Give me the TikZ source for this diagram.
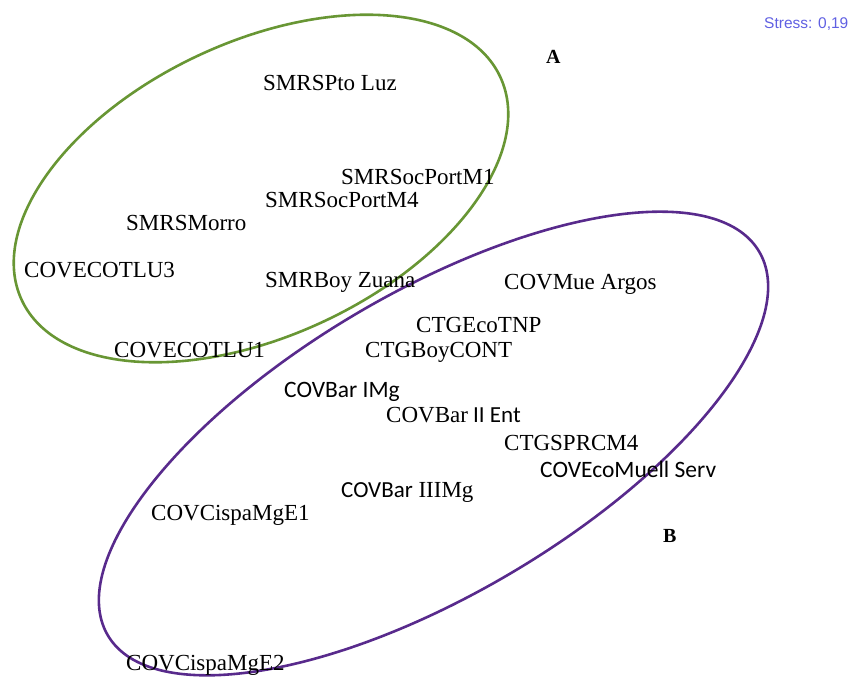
\documentclass[tikz,border=0pt]{standalone}
\usepackage{fontspec}
\setmainfont{Liberation Serif}
\newfontfamily\calfont{Carlito}
\newfontfamily\arialfont{Liberation Sans}
\usepackage{xcolor}
\usepackage{tikz}
\definecolor{grpA}{RGB}{104,150,52}
\definecolor{grpB}{RGB}{88,42,140}
\definecolor{stressblue}{RGB}{96,96,226}

\begin{document}
\begin{tikzpicture}[x=1pt, y=-1pt,
    site/.style={anchor=base west, inner sep=0pt, font=\fontsize{23}{26}\selectfont},
    csite/.style={site, font=\fontsize{23.5}{26}\calfont},
    grp/.style={anchor=base west, inner sep=0pt, font=\fontsize{20}{24}\selectfont\bfseries}]
  \useasboundingbox (0,0) rectangle (852,679);
  % group ellipses
  \draw[grpA, line width=2.6pt] (261,188.5) ellipse [x radius=264pt, y radius=147pt, rotate=25];
  \draw[grpB, line width=2.6pt] (433.5,443.5) ellipse [x radius=378pt, y radius=151pt, rotate=30.5];
  % stations
  \node[site] (ptoluz) at (263,90.5) {SMRSPto Luz};
  \node[site] (socm1) at (341,184.5) {SMRSocPortM1};
  \node[site] (socm4) at (265,207.5) {SMRSocPortM4};
  \node[site] (morro) at (126,230.5) {SMRSMorro};
  \node[site] (cotlu3) at (24,277.5) {COVECOTLU3};
  \node[site] (zuana) at (265,287.5) {SMRBoy Zuana};
  \node[site] (argos) at (504,289.5) {COVMue Argos};
  \node[site] (ecotnp) at (416,332.5) {CTGEcoTNP};
  \node[site] (cotlu1) at (114,357.5) {COVECOTLU1};
  \node[site] (boycont) at (365,357.5) {CTGBoyCONT};
  \node[csite] (barI) at (284,397.5) {COVBar IMg};
  \node[site] (barII) at (386,422) {COVBar{\calfont\ II Ent}};
  \node[site] (sprcm4) at (504,450.5) {CTGSPRCM4};
  \node[csite] (muell) at (540,477) {COVEcoMuell Serv};
  \node[site] (barIII) at (341,497) {{\calfont COVBar} IIIMg};
  \node[site] (cispa1) at (151,520) {COVCispaMgE1};
  \node[site] (cispa2) at (126,670) {COVCispaMgE2};
  % group labels
  \node[grp] (labA) at (546,64) {A};
  \node[grp] (labB) at (663,542) {B};
  \node[anchor=base west, inner sep=0pt, text=stressblue,
        font=\fontsize{15.5}{18}\arialfont] (stress) at (764,29) {Stress: 0,19};
\end{tikzpicture}
\end{document}
